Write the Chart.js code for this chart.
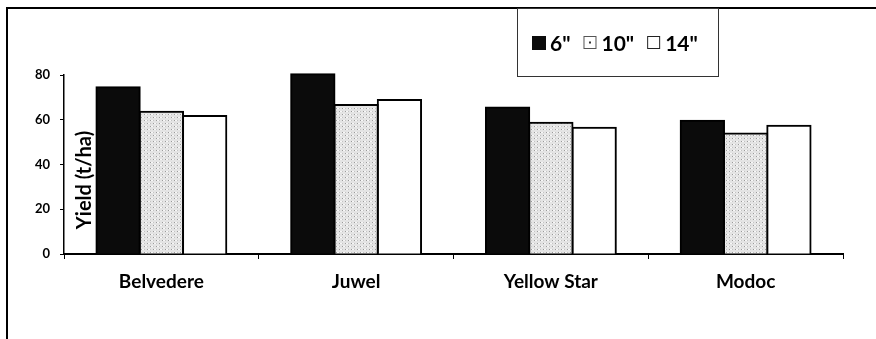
<!DOCTYPE html>
<html>
<head>
<meta charset="utf-8">
<script src="https://cdn.jsdelivr.net/npm/chart.js@4/dist/chart.umd.min.js"></script>
<style>
  html, body { margin: 0; padding: 0; background: #fff; }
  #wrap { position: relative; width: 876px; height: 339px; }
</style>
</head>
<body>
<div id="wrap"><canvas id="c" width="876" height="339"></canvas></div>
<script>
// Potato varieties and yield (t/ha) at three in-row spacings
const varieties = ['Belvedere', 'Juwel', 'Yellow Star', 'Modoc'];
const spacingLabels = ['6"', '10"', '14"'];
const yield6 = [74.5, 80.3, 65.5, 59.6];
const yield10 = [63.6, 66.6, 58.7, 53.9];
const yield14 = [61.7, 68.8, 56.4, 57.3];
const yTicks = [0, 20, 40, 60, 80];
const yTitle = 'Yield (t/ha)';

const FONT = 'Lato, "Open Sans", sans-serif';

// Light stipple fill used for the middle spacing
function stipple() {
  const p = document.createElement('canvas');
  p.width = 6; p.height = 6;
  const g = p.getContext('2d');
  g.fillStyle = '#e4e4e4'; g.fillRect(0, 0, 6, 6);
  g.fillStyle = '#f8f8f8';
  g.fillRect(1, 0, 2, 1); g.fillRect(4, 3, 2, 1);
  g.fillStyle = '#9a9a9a';
  g.fillRect(0, 0, 1, 1); g.fillRect(3, 3, 1, 1);
  g.fillStyle = '#c4c4c4';
  g.fillRect(3, 0, 1, 1); g.fillRect(0, 3, 1, 1);
  return g.createPattern(p, 'repeat');
}
const stipplePattern = stipple();

// Outer frame: left and top rules
const framePlugin = {
  id: 'frame',
  beforeDraw(chart) {
    const c = chart.ctx;
    c.save();
    c.fillStyle = '#fff';
    c.fillRect(0, 0, chart.width, chart.height);
    c.strokeStyle = '#000';
    c.lineWidth = 2;
    c.beginPath();
    c.moveTo(7, chart.height);
    c.lineTo(7, 8);
    c.lineTo(chart.width, 8);
    c.stroke();
    c.restore();
  }
};

// Rotated value-axis title sitting just inside the plot
const yTitlePlugin = {
  id: 'yTitleInside',
  afterDatasetsDraw(chart) {
    const a = chart.chartArea;
    const c = chart.ctx;
    c.save();
    c.translate(a.left + 21, a.top + 105);
    c.rotate(-Math.PI / 2);
    c.font = 'bold 20px ' + FONT;
    c.fillStyle = '#000';
    c.textAlign = 'center';
    c.textBaseline = 'middle';
    c.fillText(yTitle, 0, 0);
    c.restore();
  }
};

// Boxed legend in the top right
const boxLegendPlugin = {
  id: 'boxLegend',
  afterDraw(chart) {
    const c = chart.ctx;
    const box = { x: 517.5, y: 8.5, w: 201, h: 68 };
    c.save();
    c.strokeStyle = '#333';
    c.lineWidth = 1;
    c.strokeRect(box.x, box.y, box.w, box.h);
    c.font = 'bold 21px ' + FONT;
    c.textBaseline = 'middle';
    c.fillStyle = '#000';
    let x = 532;
    const cy = 43;
    const sw = 14;
    chart.data.datasets.forEach((ds, i) => {
      const top = cy - sw / 2;
      if (i === 0) {
        c.fillStyle = ds.backgroundColor;
        c.fillRect(x, top, sw, sw);
      } else if (i === 1) {
        c.fillStyle = '#fff';
        c.fillRect(x, top, sw - 1, sw - 1);
        c.strokeStyle = '#555';
        c.strokeRect(x + 0.5, top + 0.5, sw - 2, sw - 2);
        c.fillStyle = '#333';
        c.fillRect(x + 5.5, top + 5.5, 2, 2);
      } else {
        c.fillStyle = '#fff';
        c.fillRect(x, top, sw - 1, sw - 1);
        c.strokeStyle = '#222';
        c.strokeRect(x + 0.5, top + 0.5, sw - 2, sw - 2);
      }
      x += sw + 4;
      c.fillStyle = '#000';
      c.fillText(ds.label, x, cy + 1);
      x += c.measureText(ds.label).width + 13;
    });
    c.restore();
  }
};

const barStyle = { borderColor: '#000', borderWidth: 2, inflateAmount: 1, borderSkipped: 'start', clip: false };

new Chart(document.getElementById('c'), {
  type: 'bar',
  data: {
    labels: varieties,
    datasets: [
      Object.assign({ label: spacingLabels[0], data: yield6, backgroundColor: '#0b0b0b' }, barStyle),
      Object.assign({ label: spacingLabels[1], data: yield10, backgroundColor: stipplePattern }, barStyle),
      Object.assign({ label: spacingLabels[2], data: yield14, backgroundColor: '#ffffff' }, barStyle)
    ]
  },
  options: {
    responsive: false,
    animation: false,
    layout: { padding: { left: 0, top: 75, right: 33, bottom: 0 } },
    datasets: { bar: { categoryPercentage: 0.667, barPercentage: 1 } },
    plugins: { legend: { display: false }, tooltip: { enabled: false } },
    scales: {
      x: {
        offset: true,
        grid: { display: true, offset: true, drawOnChartArea: false, drawTicks: true, tickLength: 5, color: '#000', lineWidth: 1 },
        border: { display: true, color: '#000', width: 2 },
        ticks: { color: '#000', font: { family: FONT, weight: 'bold', size: 19 }, padding: 11, maxRotation: 0 },
        afterFit(s) { s.height = 85; }
      },
      y: {
        min: 0,
        max: 80,
        afterBuildTicks(s) { s.ticks = yTicks.map(v => ({ value: v })); },
        grid: { display: true, drawOnChartArea: false, drawTicks: true, tickLength: 4, color: '#000', lineWidth: 1 },
        border: { display: true, color: '#000', width: 1.5 },
        ticks: { color: '#000', font: { family: FONT, weight: 'bold', size: 13 }, padding: 10 },
        afterFit(s) { s.width = 64; }
      }
    }
  },
  plugins: [framePlugin, yTitlePlugin, boxLegendPlugin]
});
</script>
</body>
</html>
